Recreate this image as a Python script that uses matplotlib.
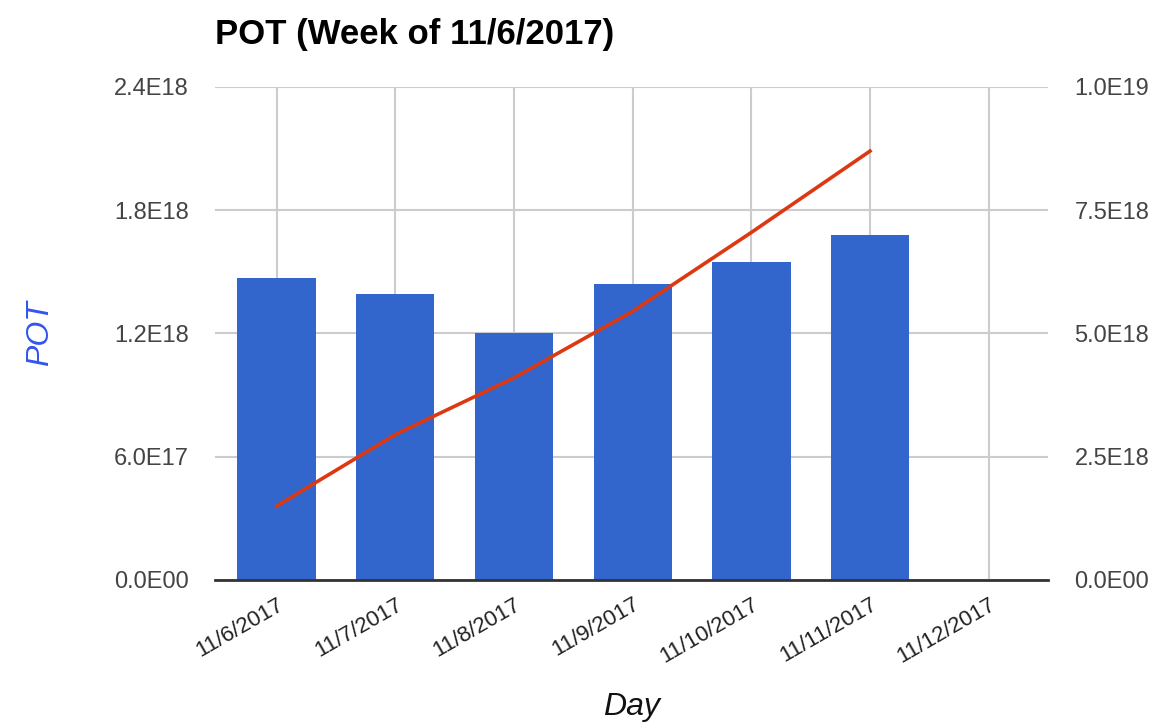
import matplotlib.pyplot as plt

plt.rcParams['font.family'] = ['Liberation Sans', 'DejaVu Sans']

days = ['11/6/2017', '11/7/2017', '11/8/2017', '11/9/2017',
        '11/10/2017', '11/11/2017', '11/12/2017']
pot = [1.47e18, 1.39e18, 1.20e18, 1.44e18, 1.55e18, 1.68e18, 0]
cum_days = days[:6]
cum_pot = [1.50e18, 2.95e18, 4.10e18, 5.45e18, 7.05e18, 8.70e18]

left_ticks = [0, 0.6e18, 1.2e18, 1.8e18, 2.4e18]
left_labels = ['0.0E00', '6.0E17', '1.2E18', '1.8E18', '2.4E18']
right_ticks = [0, 2.5e18, 5.0e18, 7.5e18, 1.0e19]
right_labels = ['0.0E00', '2.5E18', '5.0E18', '7.5E18', '1.0E19']

fig = plt.figure(figsize=(11.65, 7.28), dpi=100)
ax = fig.add_axes([0.1845, 0.2033, 0.7151, 0.6772])

x = list(range(len(days)))
ax.bar(x, pot, width=0.66, color='#3366cc', zorder=2)
ax.set_xlim(-0.52, 6.5)
ax.set_ylim(0, 2.4e18)
ax.set_yticks(left_ticks)
ax.set_yticklabels(left_labels)
ax.set_xticks(x)
ax.set_xticklabels(days, rotation=30, ha='right', rotation_mode='anchor')

ax.grid(True, color='#cccccc', lw=1.5, zorder=0)
for s in ['top', 'right', 'left']:
    ax.spines[s].set_visible(False)
ax.spines['bottom'].set_color('#333333')
ax.spines['bottom'].set_linewidth(2)
ax.spines['bottom'].set_zorder(3)
ax.tick_params(axis='y', length=0, pad=19, labelsize=17, labelcolor='#444444')
ax.tick_params(axis='x', length=0, pad=10, labelsize=16, labelcolor='#222222')

ax2 = ax.twinx()
ax2.plot([days.index(d) for d in cum_days], cum_pot, color='#dc3912', lw=2.6, zorder=4)
ax2.set_ylim(0, 1.0e19)
ax2.set_yticks(right_ticks)
ax2.set_yticklabels(right_labels)
for s in ['top', 'right', 'left', 'bottom']:
    ax2.spines[s].set_visible(False)
ax2.tick_params(axis='y', length=0, pad=19, labelsize=17, labelcolor='#444444')

ax.set_xlabel('Day', fontsize=23, style='italic', color='#111111', labelpad=18)
ax.set_ylabel('POT', fontsize=23, style='italic', color='#3355ee', labelpad=42)

fig.text(0.1845, 0.952, 'POT (Week of 11/6/2017)', fontsize=25, fontweight='bold',
         va='center', ha='left')

fig.savefig('out.png', dpi=100)
